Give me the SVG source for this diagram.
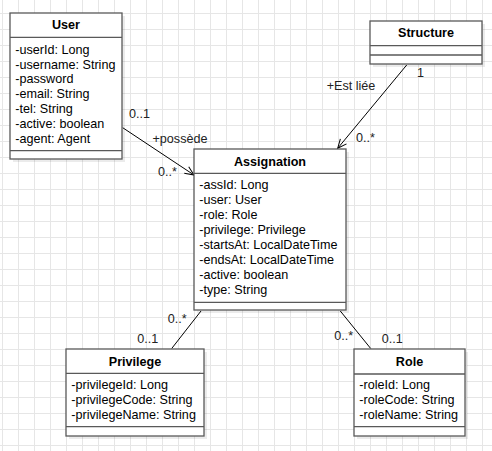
<svg xmlns="http://www.w3.org/2000/svg" width="492" height="451" viewBox="0 0 492 451">
<style>
.box{fill:#ffffff;stroke:#595959;stroke-width:1.3}
.shadow{fill:#000000;fill-opacity:0.08}
.div{stroke:#595959;stroke-width:1.3;fill:none}
.t{font-family:"Liberation Sans",Arial,sans-serif;font-size:12.6px;fill:#000}
.title{font-family:"Liberation Sans",Arial,sans-serif;font-size:12.6px;font-weight:bold;fill:#000;text-anchor:middle}
.lbl{font-family:"Liberation Sans",Arial,sans-serif;font-size:12.6px;fill:#222}
.edge{stroke:#000;stroke-width:1;fill:none}
</style>
<defs>
<pattern id="grid" x="2" y="13" width="16" height="16" patternUnits="userSpaceOnUse">
<path d="M0.5 0V16M0 0.5H16" stroke="#e6e6e6" stroke-width="1" fill="none"/>
</pattern>
<marker id="open" markerWidth="12" markerHeight="12" refX="10" refY="5" orient="auto" markerUnits="userSpaceOnUse">
<path d="M1 1L10 5L1 9" fill="none" stroke="#000" stroke-width="1"/>
</marker>
</defs>
<rect width="492" height="451" fill="#ffffff"/>
<rect width="492" height="451" fill="url(#grid)"/>

<g id="connectors">
<line class="edge" x1="122.7" y1="127.7" x2="194" y2="175" marker-end="url(#open)"/>
<line class="edge" x1="406.7" y1="65" x2="337.7" y2="148.3" marker-end="url(#open)"/>
<line class="edge" x1="201" y1="311" x2="171.7" y2="348.5"/>
<line class="edge" x1="340.3" y1="311" x2="370.7" y2="348.5"/>
<text class="lbl" x="129" y="118.3">0..1</text>
<text class="lbl" x="152.5" y="142.7">+possède</text>
<text class="lbl" x="158" y="176.3">0..*</text>
<text class="lbl" x="417" y="76.7">1</text>
<text class="lbl" x="326.7" y="90">+Est liée</text>
<text class="lbl" x="356" y="141.7">0..*</text>
<text class="lbl" x="167.7" y="323.3">0..*</text>
<text class="lbl" x="137.3" y="342.7">0..1</text>
<text class="lbl" x="334.3" y="340">0..*</text>
<text class="lbl" x="381.7" y="342.7">0..1</text>
</g>

<g id="User">
<rect class="shadow" x="13" y="16" width="112" height="146"/>
<rect class="box" x="10" y="13" width="112" height="146"/>
<path class="div" d="M10 37.3H122M10 150.7H122"/>
<text class="title" x="66" y="29.3">User</text>
<text class="t" x="15.3" y="53.6">-userId: Long</text>
<text class="t" x="15.3" y="68.5">-username: String</text>
<text class="t" x="15.3" y="83.4">-password</text>
<text class="t" x="15.3" y="98.3">-email: String</text>
<text class="t" x="15.3" y="113.2">-tel: String</text>
<text class="t" x="15.3" y="128.1">-active: boolean</text>
<text class="t" x="15.3" y="143">-agent: Agent</text>
</g>

<g id="Structure">
<rect class="shadow" x="373" y="24" width="112" height="43"/>
<rect class="box" x="370" y="21" width="112" height="43"/>
<path class="div" d="M370 45.7H482M370 55H482"/>
<text class="title" x="426" y="37">Structure</text>
</g>

<g id="Assignation">
<rect class="shadow" x="197" y="152" width="152" height="161"/>
<rect class="box" x="194" y="149" width="152" height="161"/>
<path class="div" d="M194 173.3H346M194 302.3H346"/>
<text class="title" x="270" y="166">Assignation</text>
<text class="t" x="199.3" y="188.6">-assId: Long</text>
<text class="t" x="199.3" y="203.6">-user: User</text>
<text class="t" x="199.3" y="218.6">-role: Role</text>
<text class="t" x="199.3" y="233.6">-privilege: Privilege</text>
<text class="t" x="199.3" y="248.6">-startsAt: LocalDateTime</text>
<text class="t" x="199.3" y="263.6">-endsAt: LocalDateTime</text>
<text class="t" x="199.3" y="278.6">-active: boolean</text>
<text class="t" x="199.3" y="293.6">-type: String</text>
</g>

<g id="Privilege">
<rect class="shadow" x="69" y="352" width="138" height="87"/>
<rect class="box" x="66" y="349" width="138" height="87"/>
<path class="div" d="M66 373.3H204M66 426.7H204"/>
<text class="title" x="135" y="366">Privilege</text>
<text class="t" x="71.3" y="389.3">-privilegeId: Long</text>
<text class="t" x="71.3" y="404">-privilegeCode: String</text>
<text class="t" x="71.3" y="418.7">-privilegeName: String</text>
</g>

<g id="Role">
<rect class="shadow" x="357" y="352" width="111" height="87"/>
<rect class="box" x="354" y="349" width="111" height="87"/>
<path class="div" d="M354 374H465M354 426.7H465"/>
<text class="title" x="409.5" y="366">Role</text>
<text class="t" x="359.3" y="389.3">-roleId: Long</text>
<text class="t" x="359.3" y="404">-roleCode: String</text>
<text class="t" x="359.3" y="418.7">-roleName: String</text>
</g>
</svg>
